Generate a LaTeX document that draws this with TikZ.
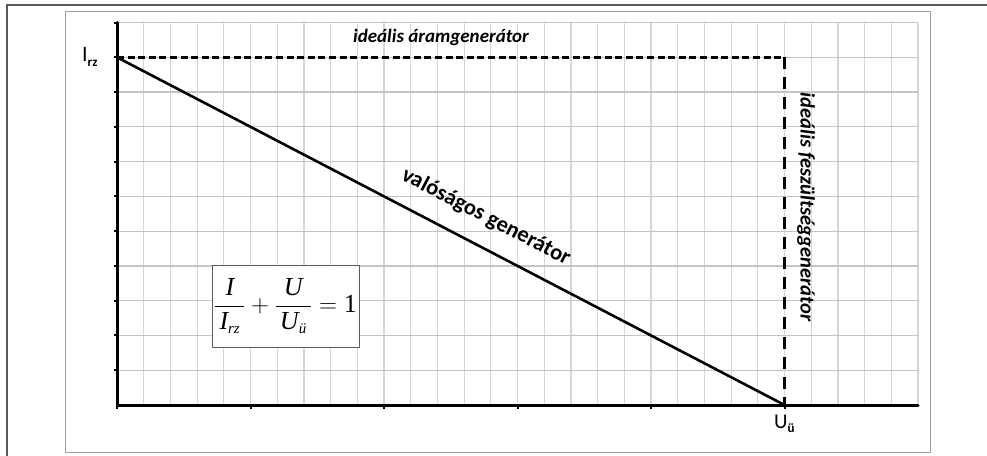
\documentclass[tikz,border=0pt]{standalone}
\usepackage{fontspec}
\setmainfont{Carlito}
\newfontfamily\tnr{Liberation Serif}
\newcommand\fti[1]{\mbox{\tnr\itshape #1}}
\newcommand\fts[1]{\mbox{\tnr\itshape\fontsize{15}{15}\selectfont #1}}
\definecolor{gridv}{HTML}{D6D6D6}
\definecolor{gridh}{HTML}{C4C4C4}
\definecolor{frameout}{HTML}{5A5A5A}
\definecolor{framein}{HTML}{A0A0A0}
\tikzset{
  axisline/.style={line width=3pt, line cap=round},
  mainline/.style={line width=2.6pt},
  dashh/.style={line width=2.8pt, dash pattern=on 7pt off 3.6pt},
  dashv/.style={line width=2.8pt, dash pattern=on 12pt off 8pt},
  lbl/.style={font=\fontsize{19}{21}\selectfont\bfseries\itshape, inner sep=0pt},
  lblv/.style={font=\fontsize{20.5}{22}\selectfont\bfseries\itshape, inner sep=0pt},
  lblup/.style={font=\fontsize{22.5}{24}\selectfont\bfseries, inner sep=0pt},
}
\begin{document}
\begin{tikzpicture}[x=1pt,y=-1pt]
\useasboundingbox (0,0) rectangle (987,455);
% frames
\draw[frameout, line width=2pt] (7,470) -- (7,5) -- (1000,5);
\draw[framein, line width=1pt] (65,11) rectangle (930,452);
% grid
\foreach \i in {1,...,30} \draw[gridv, line width=1.2pt] ({117+\i*26.7},22.5) -- ({117+\i*26.7},405);
\foreach \j in {1,...,11} \draw[gridh, line width=1.2pt] (117,{405-\j*34.77}) -- (918,{405-\j*34.77});
% coordinates
\coordinate (O) at (117,405);
\coordinate (Ytop) at (117,22.5);
\coordinate (Xend) at (918,405);
\coordinate (Irz) at (117,57.3);
\coordinate (Uu) at (784.5,405);
\coordinate (C) at (784.5,57.3);
% ticks
\foreach \j in {1,...,11} \draw[line width=2pt] (113.5,{405-\j*34.77}) -- (117,{405-\j*34.77});
\foreach \i in {0,5,...,25} \draw[line width=2pt] ({117+\i*26.7},405) -- ({117+\i*26.7},408.5);
% axes
\draw[axisline] (Ytop) -- (O) -- (Xend);
% ideal lines
\draw[dashh] (Irz) -- (C);
\draw[dashv] (C) -- (Uu);
% real generator
\draw[mainline] (Irz) -- (Uu);
% labels
\node[lbl] (tcur) at (441,37) {ideális áramgenerátor};
\node[lblup, rotate=-27.5] (treal) at (486,217) {valóságos generátor};
\node[lblv, rotate=-90] (tvolt) at (806,207) {ideális feszültséggenerátor};
\node[inner sep=0pt, anchor=base west] (lIrz) at (82,61.5) {\fontsize{22}{22}\selectfont I\raisebox{-5pt}{\fontsize{13}{13}\selectfont\bfseries rz}};
\node[inner sep=0pt, anchor=base west] (lUu) at (774,428) {\fontsize{21}{21}\selectfont U\raisebox{-4pt}{\fontsize{13}{13}\selectfont\bfseries ü}};
% formula
\node[draw=frameout, fill=white, line width=1pt, minimum width=147pt, minimum height=82pt, inner sep=0pt] (form) at (285.5,306)
  {\fontsize{26}{29}\selectfont $\displaystyle\frac{\,\fti{I}\,}{\,\fti{I}_{\fts{rz}}\,}+\frac{\,\fti{U}\,}{\,\fti{U}_{\fts{ü}}\,}=\mbox{\tnr 1}$};
\end{tikzpicture}
\end{document}
